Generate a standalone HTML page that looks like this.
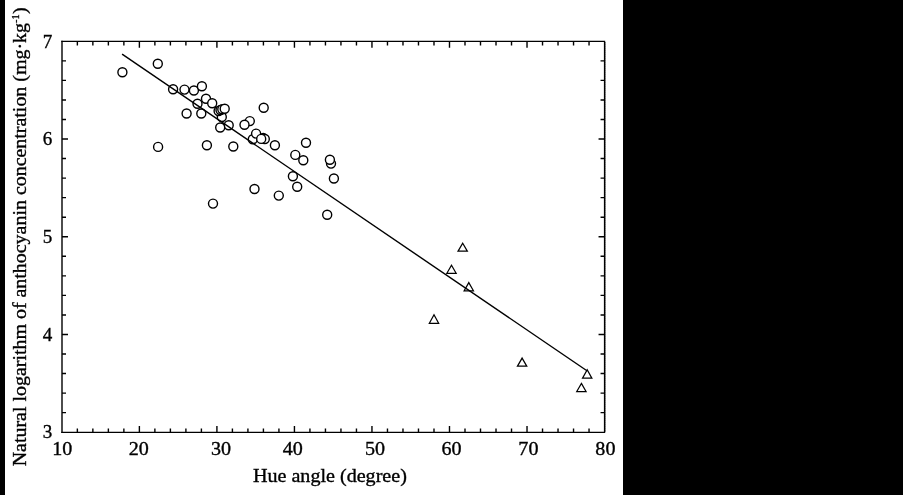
<!DOCTYPE html>
<html><head><meta charset="utf-8"><style>
html,body{margin:0;padding:0;background:#fff;}
body{width:903px;height:495px;overflow:hidden;position:relative;}
.bl{position:absolute;left:0;top:0;width:5px;height:495px;background:#000;}
.br{position:absolute;left:623px;top:0;width:280px;height:495px;background:#000;}
svg{position:absolute;left:0;top:0;will-change:transform;}
text{font-family:"Liberation Serif",serif;font-size:18.7px;fill:#000;stroke:#000;stroke-width:0.35px;}
</style></head><body>
<svg width="903" height="495" viewBox="0 0 903 495">
<path d="M62.0 40.80V433.10" fill="none" stroke="#000" stroke-width="1.4"/>
<path d="M61.3 432.45H604.55V41.45H61.3" fill="none" stroke="#000" stroke-width="1.3"/>
<path d="M605.5 42.45V431.45" fill="none" stroke="#000" stroke-opacity="0.75" stroke-width="1" stroke-dasharray="1 1"/>
<path d="M77.36 432.45V428.45M77.36 41.45V45.45M92.86 432.45V428.45M92.86 41.45V45.45M108.37 432.45V428.45M108.37 41.45V45.45M123.87 432.45V428.45M123.87 41.45V45.45M139.38 432.45V426.05M139.38 41.45V47.85M154.88 432.45V428.45M154.88 41.45V45.45M170.39 432.45V428.45M170.39 41.45V45.45M185.90 432.45V428.45M185.90 41.45V45.45M201.40 432.45V428.45M201.40 41.45V45.45M216.91 432.45V426.05M216.91 41.45V47.85M232.41 432.45V428.45M232.41 41.45V45.45M247.92 432.45V428.45M247.92 41.45V45.45M263.42 432.45V428.45M263.42 41.45V45.45M278.93 432.45V428.45M278.93 41.45V45.45M294.44 432.45V426.05M294.44 41.45V47.85M309.94 432.45V428.45M309.94 41.45V45.45M325.45 432.45V428.45M325.45 41.45V45.45M340.95 432.45V428.45M340.95 41.45V45.45M356.46 432.45V428.45M356.46 41.45V45.45M371.96 432.45V426.05M371.96 41.45V47.85M387.47 432.45V428.45M387.47 41.45V45.45M402.98 432.45V428.45M402.98 41.45V45.45M418.48 432.45V428.45M418.48 41.45V45.45M433.99 432.45V428.45M433.99 41.45V45.45M449.49 432.45V426.05M449.49 41.45V47.85M465.00 432.45V428.45M465.00 41.45V45.45M480.50 432.45V428.45M480.50 41.45V45.45M496.01 432.45V428.45M496.01 41.45V45.45M511.52 432.45V428.45M511.52 41.45V45.45M527.02 432.45V426.05M527.02 41.45V47.85M542.53 432.45V428.45M542.53 41.45V45.45M558.03 432.45V428.45M558.03 41.45V45.45M573.54 432.45V428.45M573.54 41.45V45.45M589.04 432.45V428.45M589.04 41.45V45.45M62.0 412.65H66.00M604.55 412.65H600.55M62.0 393.11H66.00M604.55 393.11H600.55M62.0 373.56H66.00M604.55 373.56H600.55M62.0 354.02H66.00M604.55 354.02H600.55M62.0 334.48H68.00M604.55 334.48H598.55M62.0 314.93H66.00M604.55 314.93H600.55M62.0 295.38H66.00M604.55 295.38H600.55M62.0 275.84H66.00M604.55 275.84H600.55M62.0 256.30H66.00M604.55 256.30H600.55M62.0 236.75H68.00M604.55 236.75H598.55M62.0 217.20H66.00M604.55 217.20H600.55M62.0 197.66H66.00M604.55 197.66H600.55M62.0 178.12H66.00M604.55 178.12H600.55M62.0 158.57H66.00M604.55 158.57H600.55M62.0 139.03H68.00M604.55 139.03H598.55M62.0 119.48H66.00M604.55 119.48H600.55M62.0 99.93H66.00M604.55 99.93H600.55M62.0 80.39H66.00M604.55 80.39H600.55M62.0 60.84H66.00M604.55 60.84H600.55" fill="none" stroke="#000" stroke-width="1.4"/>
<circle cx="122.4" cy="72.3" r="4.5" fill="#fff" stroke="#000" stroke-width="1.4"/>
<circle cx="157.8" cy="63.7" r="4.5" fill="#fff" stroke="#000" stroke-width="1.4"/>
<circle cx="173.1" cy="89.3" r="4.5" fill="#fff" stroke="#000" stroke-width="1.4"/>
<circle cx="184.5" cy="89.6" r="4.5" fill="#fff" stroke="#000" stroke-width="1.4"/>
<circle cx="193.9" cy="90.5" r="4.5" fill="#fff" stroke="#000" stroke-width="1.4"/>
<circle cx="201.9" cy="86.3" r="4.5" fill="#fff" stroke="#000" stroke-width="1.4"/>
<circle cx="206.0" cy="98.8" r="4.5" fill="#fff" stroke="#000" stroke-width="1.4"/>
<circle cx="212.2" cy="103.2" r="4.5" fill="#fff" stroke="#000" stroke-width="1.4"/>
<circle cx="197.5" cy="103.7" r="4.5" fill="#fff" stroke="#000" stroke-width="1.4"/>
<circle cx="201.3" cy="113.5" r="4.5" fill="#fff" stroke="#000" stroke-width="1.4"/>
<circle cx="186.6" cy="113.5" r="4.5" fill="#fff" stroke="#000" stroke-width="1.4"/>
<circle cx="221.8" cy="117.0" r="4.5" fill="#fff" stroke="#000" stroke-width="1.4"/>
<circle cx="218.6" cy="111.0" r="4.5" fill="#fff" stroke="#000" stroke-width="1.4"/>
<circle cx="220.5" cy="110.0" r="4.5" fill="#fff" stroke="#000" stroke-width="1.4"/>
<circle cx="222.3" cy="109.2" r="4.5" fill="#fff" stroke="#000" stroke-width="1.4"/>
<circle cx="224.7" cy="108.8" r="4.5" fill="#fff" stroke="#000" stroke-width="1.4"/>
<circle cx="228.7" cy="125.2" r="4.5" fill="#fff" stroke="#000" stroke-width="1.4"/>
<circle cx="220.2" cy="127.5" r="4.5" fill="#fff" stroke="#000" stroke-width="1.4"/>
<circle cx="263.7" cy="107.7" r="4.5" fill="#fff" stroke="#000" stroke-width="1.4"/>
<circle cx="249.8" cy="121.1" r="4.5" fill="#fff" stroke="#000" stroke-width="1.4"/>
<circle cx="244.5" cy="124.8" r="4.5" fill="#fff" stroke="#000" stroke-width="1.4"/>
<circle cx="252.8" cy="139.2" r="4.5" fill="#fff" stroke="#000" stroke-width="1.4"/>
<circle cx="263.2" cy="138.0" r="4.5" fill="#fff" stroke="#000" stroke-width="1.4"/>
<circle cx="264.8" cy="139.0" r="4.5" fill="#fff" stroke="#000" stroke-width="1.4"/>
<circle cx="256.1" cy="133.6" r="4.5" fill="#fff" stroke="#000" stroke-width="1.4"/>
<circle cx="261.2" cy="138.9" r="4.5" fill="#fff" stroke="#000" stroke-width="1.4"/>
<circle cx="274.9" cy="145.3" r="4.5" fill="#fff" stroke="#000" stroke-width="1.4"/>
<circle cx="158.1" cy="146.9" r="4.5" fill="#fff" stroke="#000" stroke-width="1.4"/>
<circle cx="206.9" cy="145.3" r="4.5" fill="#fff" stroke="#000" stroke-width="1.4"/>
<circle cx="233.3" cy="146.5" r="4.5" fill="#fff" stroke="#000" stroke-width="1.4"/>
<circle cx="213.0" cy="203.6" r="4.5" fill="#fff" stroke="#000" stroke-width="1.4"/>
<circle cx="306" cy="142.7" r="4.5" fill="#fff" stroke="#000" stroke-width="1.4"/>
<circle cx="295.3" cy="154.9" r="4.5" fill="#fff" stroke="#000" stroke-width="1.4"/>
<circle cx="303.3" cy="160.2" r="4.5" fill="#fff" stroke="#000" stroke-width="1.4"/>
<circle cx="331.0" cy="163.6" r="4.5" fill="#fff" stroke="#000" stroke-width="1.4"/>
<circle cx="329.9" cy="159.7" r="4.5" fill="#fff" stroke="#000" stroke-width="1.4"/>
<circle cx="333.9" cy="178.5" r="4.5" fill="#fff" stroke="#000" stroke-width="1.4"/>
<circle cx="292.9" cy="176.2" r="4.5" fill="#fff" stroke="#000" stroke-width="1.4"/>
<circle cx="297.2" cy="186.7" r="4.5" fill="#fff" stroke="#000" stroke-width="1.4"/>
<circle cx="254.5" cy="189" r="4.5" fill="#fff" stroke="#000" stroke-width="1.4"/>
<circle cx="278.8" cy="195.6" r="4.5" fill="#fff" stroke="#000" stroke-width="1.4"/>
<circle cx="327.2" cy="214.7" r="4.5" fill="#fff" stroke="#000" stroke-width="1.4"/>
<path d="M462.7 243.20L467.35 251.20H458.05Z" fill="#fff" stroke="#000" stroke-width="1.25"/>
<path d="M451.5 265.20L456.15 273.30H446.85Z" fill="#fff" stroke="#000" stroke-width="1.25"/>
<path d="M468.8 282.60L473.45 290.80H464.15Z" fill="#fff" stroke="#000" stroke-width="1.25"/>
<path d="M434 314.80L438.65 323.30H429.35Z" fill="#fff" stroke="#000" stroke-width="1.25"/>
<path d="M522.1 358.10L526.75 366.20H517.45Z" fill="#fff" stroke="#000" stroke-width="1.25"/>
<path d="M587.2 369.70L591.85 378.20H582.55Z" fill="#fff" stroke="#000" stroke-width="1.25"/>
<path d="M581.4 383.40L586.05 391.50H576.75Z" fill="#fff" stroke="#000" stroke-width="1.25"/>
<line x1="122.1" y1="54.2" x2="587.3" y2="371.0" stroke="#000" stroke-width="1.4"/>
<text transform="translate(62.20 455) scale(1.075 1)" text-anchor="middle">10</text>
<text transform="translate(138.70 455) scale(1.075 1)" text-anchor="middle">20</text>
<text transform="translate(221.10 455) scale(1.075 1)" text-anchor="middle">30</text>
<text transform="translate(292.70 455) scale(1.075 1)" text-anchor="middle">40</text>
<text transform="translate(375.10 455) scale(1.075 1)" text-anchor="middle">50</text>
<text transform="translate(451.50 455) scale(1.075 1)" text-anchor="middle">60</text>
<text transform="translate(528.40 455) scale(1.075 1)" text-anchor="middle">70</text>
<text transform="translate(605.40 455) scale(1.075 1)" text-anchor="middle">80</text>
<text transform="translate(52.4 438.45) scale(1.02 1)" text-anchor="end">3</text>
<text transform="translate(52.4 340.73) scale(1.02 1)" text-anchor="end">4</text>
<text transform="translate(52.4 243.00) scale(1.02 1)" text-anchor="end">5</text>
<text transform="translate(52.4 145.28) scale(1.02 1)" text-anchor="end">6</text>
<text transform="translate(52.4 47.55) scale(1.02 1)" text-anchor="end">7</text>
<text transform="translate(329.9 481.5) scale(1.075 1)" text-anchor="middle">Hue angle (degree)</text>
<text transform="translate(25.8 466.3) rotate(-90)" textLength="443.3" lengthAdjust="spacingAndGlyphs">Natural logarithm of anthocyanin concentration (mg·kg</text>
<text transform="translate(19.3 23.1) rotate(-90)" style="font-size:10.5px">-1</text>
<text transform="translate(25.8 14) rotate(-90) scale(1.075 1)">)</text>
</svg>
<div class="bl"></div><div class="br"></div>
</body></html>
